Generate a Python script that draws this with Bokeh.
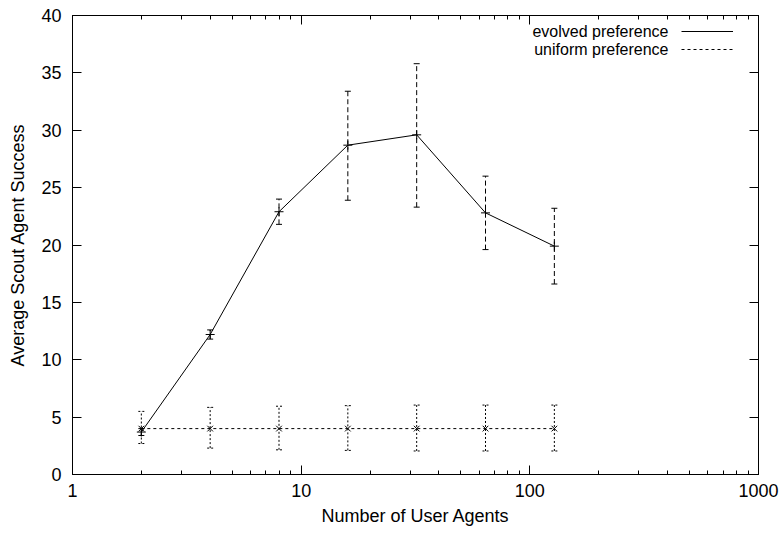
from bokeh.plotting import figure
from bokeh.models import (Whisker, TeeHead, ColumnDataSource, LogAxis, LinearAxis,
                          Legend, LegendItem, Label, LogTicker, FixedTicker, NumeralTickFormatter)
from bokeh.embed import file_html
from bokeh.resources import INLINE

agents = [2, 4, 8, 16, 32, 64, 128]
evolved_mean = [3.7, 12.2, 22.9, 28.7, 29.6, 22.8, 19.9]
evolved_low = [3.4, 11.8, 21.8, 23.9, 23.3, 19.6, 16.6]
evolved_high = [4.0, 12.6, 24.0, 33.4, 35.8, 26.0, 23.2]
uniform_mean = [4.0, 4.0, 4.0, 4.0, 4.0, 4.0, 4.0]
uniform_low = [2.7, 2.3, 2.15, 2.1, 2.05, 2.05, 2.05]
uniform_high = [5.5, 5.85, 5.95, 6.0, 6.05, 6.05, 6.05]
y_ticks = [0, 5, 10, 15, 20, 25, 30, 35, 40]
legend_labels = ["evolved preference", "uniform preference"]

FONT = "Liberation Sans"
TICK_FS = "18px"
LEG_FS = "16px"

p = figure(frame_width=686, frame_height=459, x_axis_type="log",
           x_range=(1, 1000), y_range=(0, 40), output_backend="svg",
           toolbar_location=None, min_border_left=72, min_border_right=24,
           min_border_top=15, min_border_bottom=61)
p.xgrid.visible = False
p.ygrid.visible = False
p.outline_line_color = "black"
p.outline_line_width = 1
p.background_fill_color = "white"
p.border_fill_color = "white"

ev = ColumnDataSource(dict(x=agents, y=evolved_mean, low=evolved_low, high=evolved_high))
un = ColumnDataSource(dict(x=agents, y=uniform_mean, low=uniform_low, high=uniform_high))

ev_line = p.line("x", "y", source=ev, line_color="black", line_width=1)
p.scatter("x", "y", source=ev, marker="cross", size=9, line_color="black", line_width=1)
un_line = p.line("x", "y", source=un, line_color="black", line_width=1, line_dash="3 3")
p.scatter("x", "y", source=un, marker="x", size=8, line_color="black", line_width=1)

p.add_layout(Whisker(source=ev, base="x", upper="high", lower="low", dimension="height",
                     line_color="black", line_width=1, line_dash="5 3",
                     upper_head=TeeHead(size=6, line_width=1, line_color="black"),
                     lower_head=TeeHead(size=6, line_width=1, line_color="black")))
p.add_layout(Whisker(source=un, base="x", upper="high", lower="low", dimension="height",
                     line_color="black", line_width=1, line_dash="2 2",
                     upper_head=TeeHead(size=6, line_width=1, line_color="black", line_dash="2 2"),
                     lower_head=TeeHead(size=6, line_width=1, line_color="black", line_dash="2 2")))

def style_axis(ax, labels=True):
    ax.axis_line_color = None
    ax.major_tick_in = 9
    ax.major_tick_out = 0
    ax.minor_tick_in = 4
    ax.minor_tick_out = 0
    ax.major_tick_line_color = "black"
    ax.minor_tick_line_color = "black"
    ax.major_label_text_font = FONT
    ax.major_label_text_font_size = TICK_FS if labels else "6px"
    ax.major_label_text_color = "black"
    if not labels:
        ax.major_label_text_alpha = 0
    ax.axis_label_text_font = FONT
    ax.axis_label_text_font_size = TICK_FS
    ax.axis_label_text_font_style = "normal"
    ax.axis_label_text_color = "black"

xax = p.xaxis[0]
xax.ticker = LogTicker(num_minor_ticks=10)
xax.formatter = NumeralTickFormatter(format="0")
style_axis(xax)
xax.major_label_standoff = 9
xax.axis_label = "Number of User Agents"
xax.axis_label_standoff = 6

yax = p.yaxis[0]
yax.ticker = FixedTicker(ticks=y_ticks)
style_axis(yax)
yax.minor_tick_line_color = None
yax.major_label_standoff = 11
yax.axis_label = "Average Scout Agent Success"
yax.axis_label_standoff = 10

top = LogAxis(ticker=LogTicker(num_minor_ticks=10), formatter=NumeralTickFormatter(format="0"))
style_axis(top, labels=False)
top.major_label_standoff = 0
p.add_layout(top, "above")
right = LinearAxis(ticker=FixedTicker(ticks=y_ticks))
style_axis(right, labels=False)
right.minor_tick_line_color = None
right.major_label_standoff = 0
p.add_layout(right, "right")

legend = Legend(items=[LegendItem(label=" ", renderers=[ev_line]),
                       LegendItem(label=" ", renderers=[un_line])],
                location=(609, 416), glyph_width=52, glyph_height=18, label_height=18,
                label_width=2, padding=0, margin=0, spacing=0,
                border_line_color=None, background_fill_alpha=0,
                label_text_font=FONT, label_text_font_size="6px", label_text_alpha=0,
                label_standoff=0)
p.add_layout(legend, "center")

for i, txt in enumerate(legend_labels):
    p.add_layout(Label(x=596, y=443 - 18 * i, x_units="screen", y_units="screen", text=txt,
                       text_align="right", text_baseline="middle", text_font=FONT,
                       text_font_size=LEG_FS, text_color="black"))

open("out.html", "w").write(file_html(p, INLINE))
